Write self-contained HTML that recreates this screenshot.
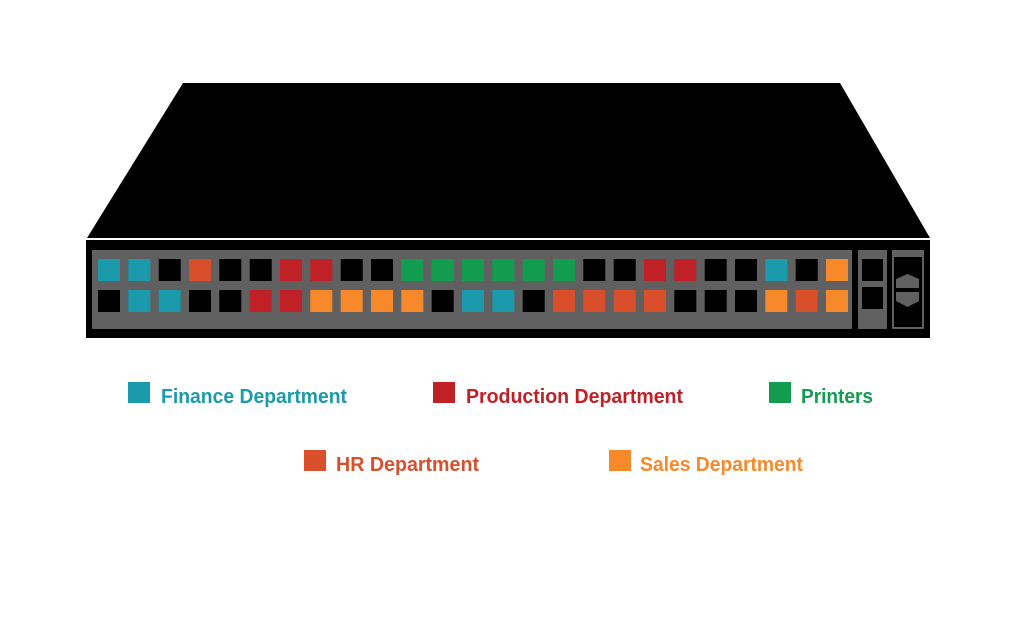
<!DOCTYPE html>
<html><head><meta charset="utf-8"><style>html,body{margin:0;padding:0;background:#fff}svg{display:block}</style></head>
<body>
<svg width="1024" height="640" viewBox="0 0 1024 640" xmlns="http://www.w3.org/2000/svg">
<rect width="1024" height="640" fill="#fff"/>
<polygon points="183,83 840,83 930,238 87,238" fill="#000"/>
<rect x="86" y="240" width="844" height="98" fill="#000"/>
<rect x="92" y="250" width="760" height="79" fill="#606060"/>
<rect x="858" y="250" width="29" height="79" fill="#606060"/>
<rect x="862" y="259" width="21" height="22" fill="#000"/>
<rect x="862" y="287" width="21" height="22" fill="#000"/>
<rect x="892" y="250" width="32" height="79" fill="#606060"/>
<rect x="894" y="257" width="28" height="70" fill="#000"/>
<polygon points="896,279 907.5,274 919,279 919,288 896,288" fill="#606060"/>
<polygon points="896,292 919,292 919,301 907.5,307 896,301" fill="#606060"/>
<g id="ports"></g>
<g font-family="Liberation Sans, sans-serif" font-weight="bold" font-size="20">
<rect x="128" y="382" width="22" height="21" fill="#1a9aab"/>
<text x="161" y="403" fill="#1a9aab" textLength="186" lengthAdjust="spacingAndGlyphs">Finance Department</text>
<rect x="433" y="382" width="22" height="21" fill="#c02126"/>
<text x="466" y="403" fill="#c02126" textLength="217" lengthAdjust="spacingAndGlyphs">Production Department</text>
<rect x="769" y="382" width="22" height="21" fill="#119c4f"/>
<text x="801" y="403" fill="#119c4f" textLength="72" lengthAdjust="spacingAndGlyphs">Printers</text>
<rect x="304" y="450" width="22" height="21" fill="#d94f2b"/>
<text x="336" y="471" fill="#d94f2b" textLength="143" lengthAdjust="spacingAndGlyphs">HR Department</text>
<rect x="609" y="450" width="22" height="21" fill="#f7892a"/>
<text x="640" y="471" fill="#f7892a" textLength="163" lengthAdjust="spacingAndGlyphs">Sales Department</text>
</g>
<g>
<!-- row1 -->
<rect x="98" y="259" width="22" height="22" fill="#1a9aab"/>
<rect x="128.3" y="259" width="22" height="22" fill="#1a9aab"/>
<rect x="158.7" y="259" width="22" height="22" fill="#000"/>
<rect x="189" y="259" width="22" height="22" fill="#d94f2b"/>
<rect x="219.3" y="259" width="22" height="22" fill="#000"/>
<rect x="249.7" y="259" width="22" height="22" fill="#000"/>
<rect x="280" y="259" width="22" height="22" fill="#c02126"/>
<rect x="310.3" y="259" width="22" height="22" fill="#c02126"/>
<rect x="340.7" y="259" width="22" height="22" fill="#000"/>
<rect x="371" y="259" width="22" height="22" fill="#000"/>
<rect x="401.3" y="259" width="22" height="22" fill="#119c4f"/>
<rect x="431.7" y="259" width="22" height="22" fill="#119c4f"/>
<rect x="462" y="259" width="22" height="22" fill="#119c4f"/>
<rect x="492.3" y="259" width="22" height="22" fill="#119c4f"/>
<rect x="522.7" y="259" width="22" height="22" fill="#119c4f"/>
<rect x="553" y="259" width="22" height="22" fill="#119c4f"/>
<rect x="583.3" y="259" width="22" height="22" fill="#000"/>
<rect x="613.7" y="259" width="22" height="22" fill="#000"/>
<rect x="644" y="259" width="22" height="22" fill="#c02126"/>
<rect x="674.3" y="259" width="22" height="22" fill="#c02126"/>
<rect x="704.7" y="259" width="22" height="22" fill="#000"/>
<rect x="735" y="259" width="22" height="22" fill="#000"/>
<rect x="765.3" y="259" width="22" height="22" fill="#1a9aab"/>
<rect x="795.7" y="259" width="22" height="22" fill="#000"/>
<rect x="826" y="259" width="22" height="22" fill="#f7892a"/>
<!-- row2 -->
<rect x="98" y="290" width="22" height="22" fill="#000"/>
<rect x="128.3" y="290" width="22" height="22" fill="#1a9aab"/>
<rect x="158.7" y="290" width="22" height="22" fill="#1a9aab"/>
<rect x="189" y="290" width="22" height="22" fill="#000"/>
<rect x="219.3" y="290" width="22" height="22" fill="#000"/>
<rect x="249.7" y="290" width="22" height="22" fill="#c02126"/>
<rect x="280" y="290" width="22" height="22" fill="#c02126"/>
<rect x="310.3" y="290" width="22" height="22" fill="#f7892a"/>
<rect x="340.7" y="290" width="22" height="22" fill="#f7892a"/>
<rect x="371" y="290" width="22" height="22" fill="#f7892a"/>
<rect x="401.3" y="290" width="22" height="22" fill="#f7892a"/>
<rect x="431.7" y="290" width="22" height="22" fill="#000"/>
<rect x="462" y="290" width="22" height="22" fill="#1a9aab"/>
<rect x="492.3" y="290" width="22" height="22" fill="#1a9aab"/>
<rect x="522.7" y="290" width="22" height="22" fill="#000"/>
<rect x="553" y="290" width="22" height="22" fill="#d94f2b"/>
<rect x="583.3" y="290" width="22" height="22" fill="#d94f2b"/>
<rect x="613.7" y="290" width="22" height="22" fill="#d94f2b"/>
<rect x="644" y="290" width="22" height="22" fill="#d94f2b"/>
<rect x="674.3" y="290" width="22" height="22" fill="#000"/>
<rect x="704.7" y="290" width="22" height="22" fill="#000"/>
<rect x="735" y="290" width="22" height="22" fill="#000"/>
<rect x="765.3" y="290" width="22" height="22" fill="#f7892a"/>
<rect x="795.7" y="290" width="22" height="22" fill="#d94f2b"/>
<rect x="826" y="290" width="22" height="22" fill="#f7892a"/>
</g>
</svg>
</body></html>
